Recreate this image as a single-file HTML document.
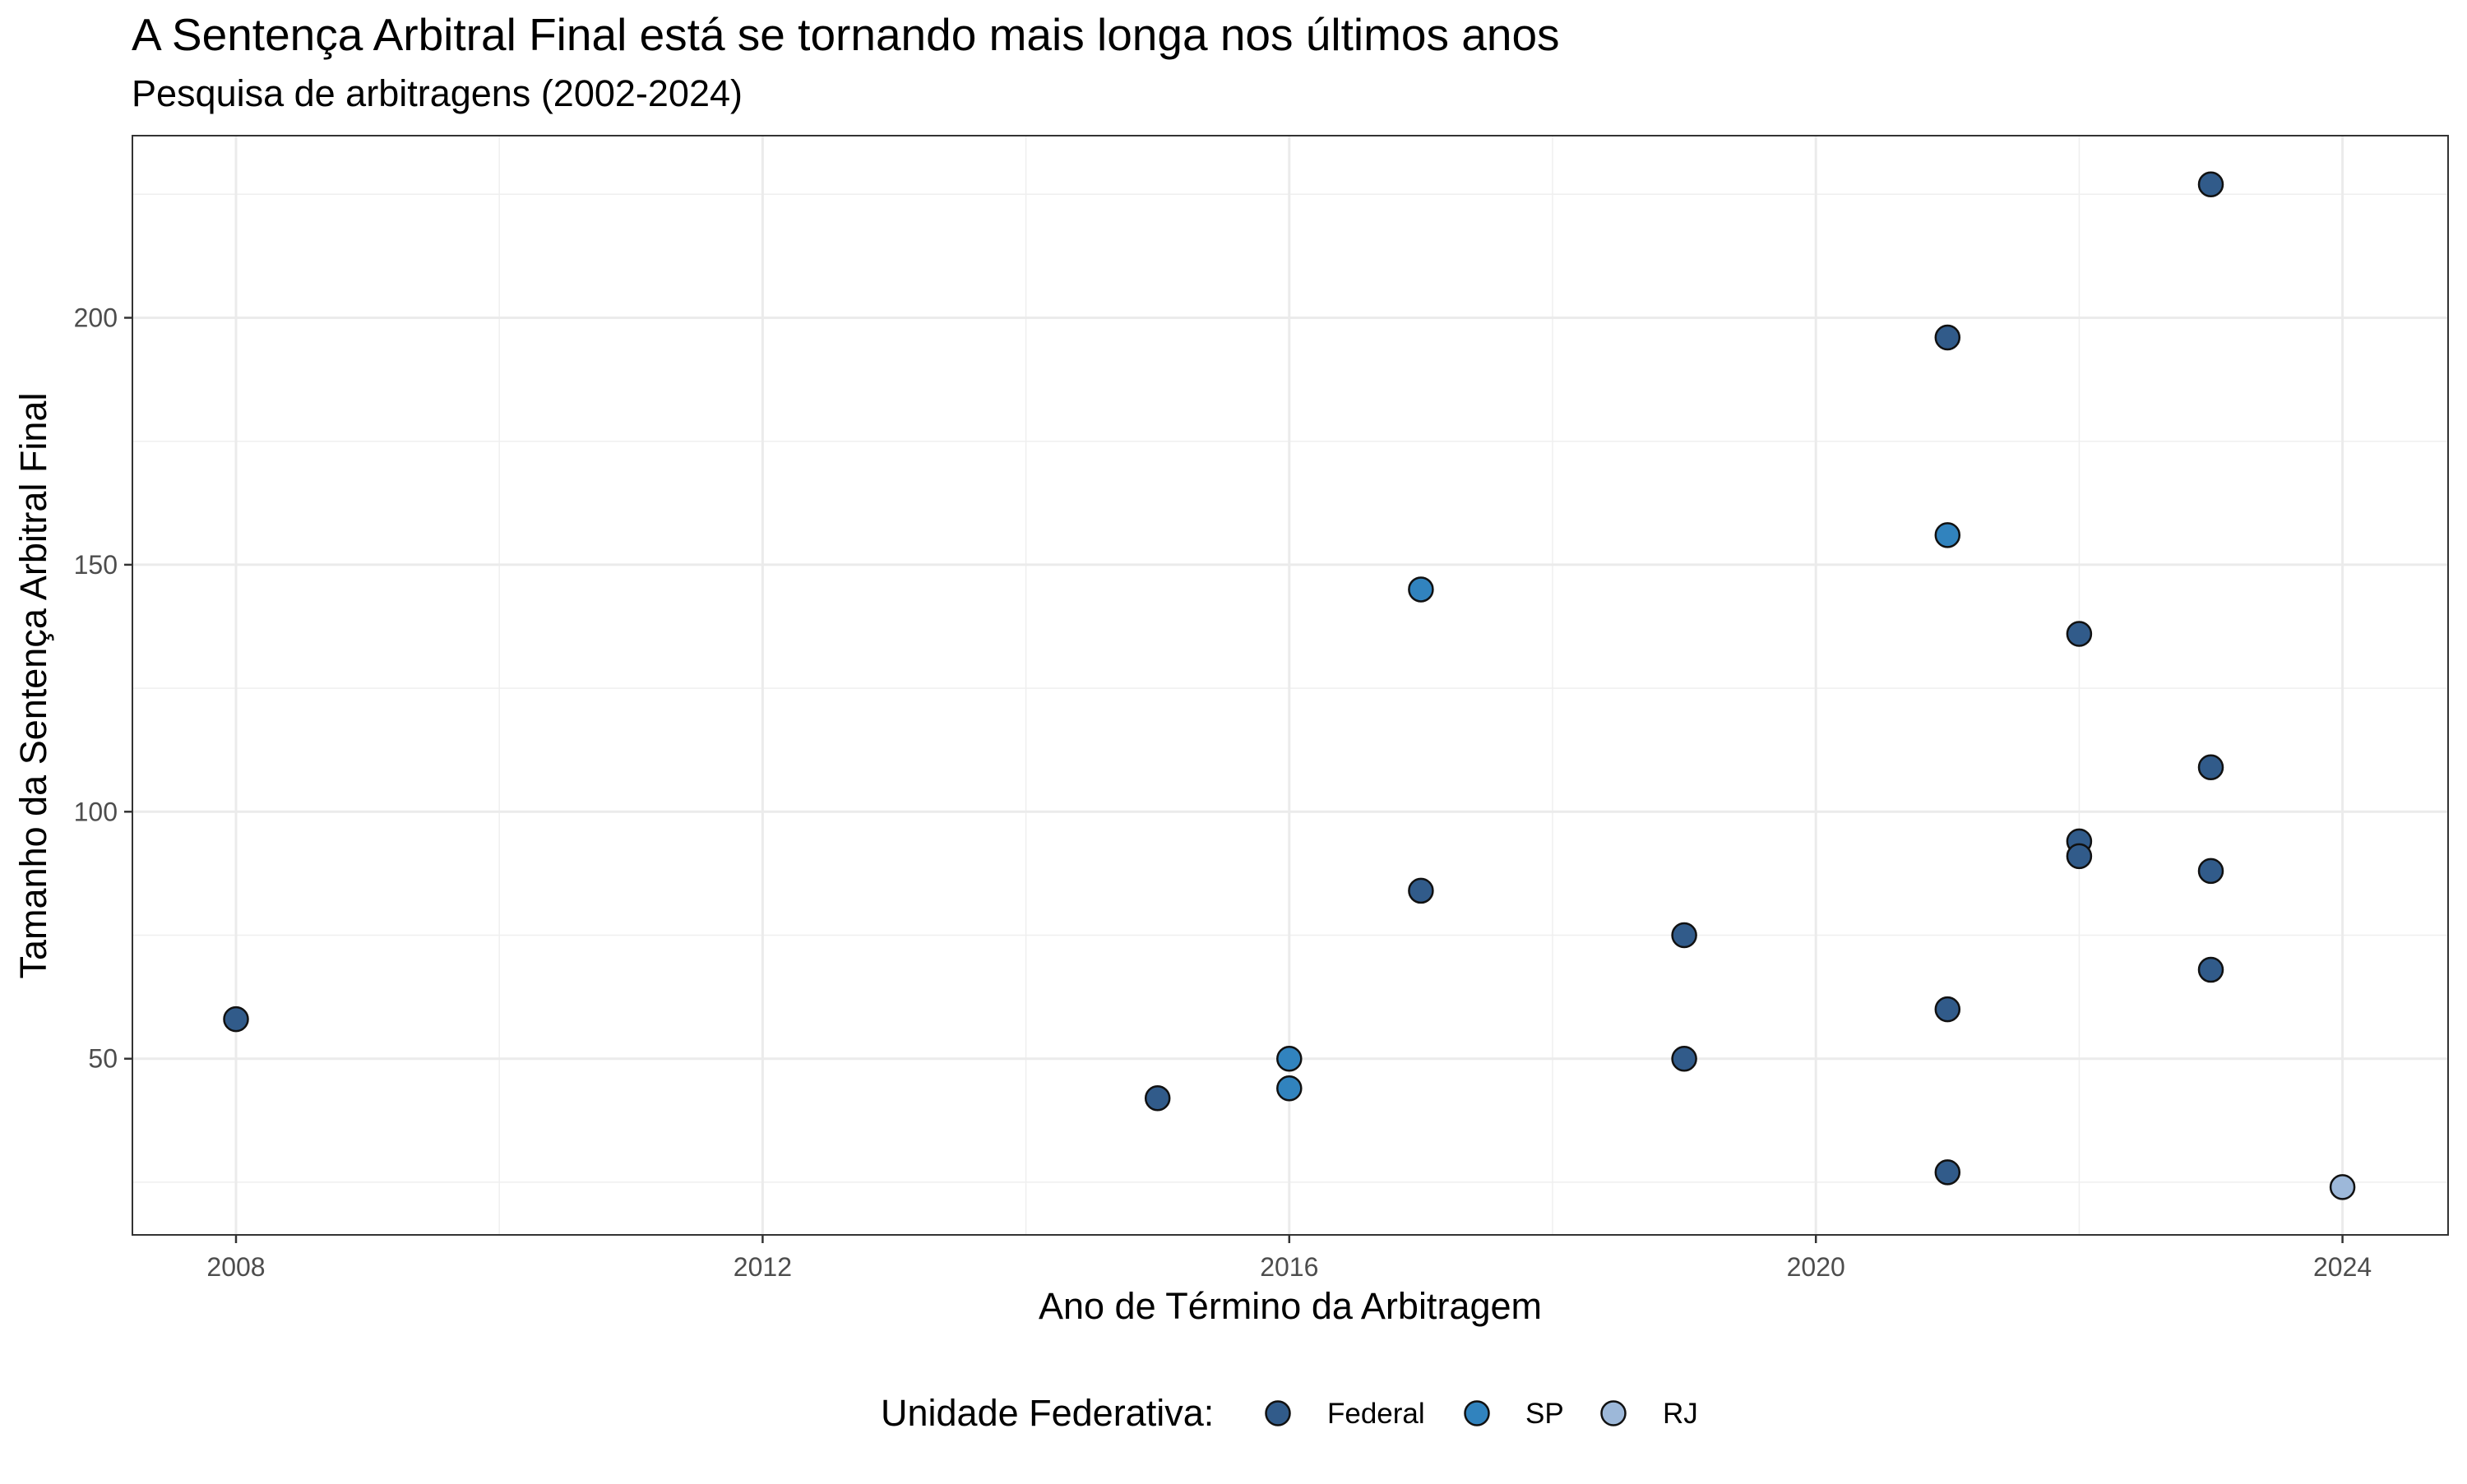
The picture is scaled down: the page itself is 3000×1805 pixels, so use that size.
<!DOCTYPE html>
<html><head><meta charset="utf-8"><style>
body{margin:0;background:#fff}
svg text{font-family:"Liberation Sans",Arial,sans-serif}
</style></head><body>
<svg id="chart" width="3000" height="1800" viewBox="0 0 3000 1800" xmlns="http://www.w3.org/2000/svg">
<rect width="3000" height="1800" fill="#fff"/>
<text x="160" y="61" font-size="55" fill="#000">A Sentença Arbitral Final está se tornando mais longa nos últimos anos</text>
<text x="160" y="129" font-size="45" fill="#000">Pesquisa de arbitragens (2002-2024)</text>
<g id="grid"></g>
<g id="points"></g>
<rect x="161" y="165" width="2816" height="1337" fill="none" stroke="#333" stroke-width="2"/>
<g id="axes"></g>
<text x="1569" y="1604" font-size="45" text-anchor="middle">Ano de Término da Arbitragem</text>
<text transform="translate(56,834) rotate(-90)" font-size="45" text-anchor="middle">Tamanho da Sentença Arbitral Final</text>
<g>
<text x="1071" y="1734" font-size="45">Unidade Federativa:</text>
<g><circle cx="1554" cy="1719" r="14.5" fill="#315b8a" stroke="#111" stroke-width="2.5"/><text x="1614" y="1731" font-size="35">Federal</text></g>
<g><circle cx="1796" cy="1719" r="14.5" fill="#3183be" stroke="#111" stroke-width="2.5"/><text x="1855" y="1731" font-size="35">SP</text></g>
<g><circle cx="1962" cy="1719" r="14.5" fill="#9db8d9" stroke="#111" stroke-width="2.5"/><text x="2022" y="1731" font-size="35">RJ</text></g>
</g>
</svg>
<script>
const fedYears=[2008,2015,2017,2019,2019,2021,2021,2021,2022,2022,2022,2023,2023,2023,2023];
const fedValues=[58,42,84,75,50,196,60,27,136,94,91,227,109,88,68];
const spYears=[2016,2016,2017,2021];
const spValues=[50,44,145,156];
const rjYears=[2024];
const rjValues=[24];
const xTicks=[2008,2012,2016,2020,2024];
const xMinor=[2010,2014,2018,2022];
const yTicks=[50,100,150,200];
const yMinor=[25,75,125,175,225];

const NS="http://www.w3.org/2000/svg";
const X=v=>287+(v-2008)*160.1;
const Y=v=>386.5-(v-200)*6.008;
function mk(tag,attrs,parent){const e=document.createElementNS(NS,tag);for(const k in attrs)e.setAttribute(k,attrs[k]);parent.appendChild(e);return e;}
const grid=document.getElementById('grid'),axes=document.getElementById('axes'),pts=document.getElementById('points');
xMinor.forEach(v=>{const l=mk('line',{x1:X(v),x2:X(v),y1:165,y2:1502,stroke:'#efefef','stroke-width':1.5},grid);

});
yMinor.forEach(v=>{const l=mk('line',{x1:161,x2:2977,y1:Y(v),y2:Y(v),stroke:'#efefef','stroke-width':1.5},grid);

});
xTicks.forEach(v=>{const l=mk('line',{x1:X(v),x2:X(v),y1:165,y2:1502,stroke:'#ebebeb','stroke-width':3},grid);


const t=mk('line',{x1:X(v),x2:X(v),y1:1502,y2:1512,stroke:'#333','stroke-width':2.5},axes);


const tx=mk('text',{x:X(v),y:1552,'font-size':32,fill:'#4d4d4d','text-anchor':'middle'},axes);tx.textContent=v;

});
yTicks.forEach(v=>{const l=mk('line',{x1:161,x2:2977,y1:Y(v),y2:Y(v),stroke:'#ebebeb','stroke-width':3},grid);


const t=mk('line',{x1:151,x2:161,y1:Y(v),y2:Y(v),stroke:'#333','stroke-width':2.5},axes);


const tx=mk('text',{x:143,y:Y(v)+11,'font-size':32,fill:'#4d4d4d','text-anchor':'end'},axes);tx.textContent=v;

});
function series(xs,ys,color,name){xs.forEach((x,i)=>{const c=mk('circle',{cx:X(x),cy:Y(ys[i]),r:14.5,fill:color,stroke:'#111','stroke-width':2.5},pts);

});}
series(fedYears,fedValues,'#315b8a','point-federal');
series(spYears,spValues,'#3183be','point-sp');
series(rjYears,rjValues,'#9db8d9','point-rj');
</script>
</body></html>
